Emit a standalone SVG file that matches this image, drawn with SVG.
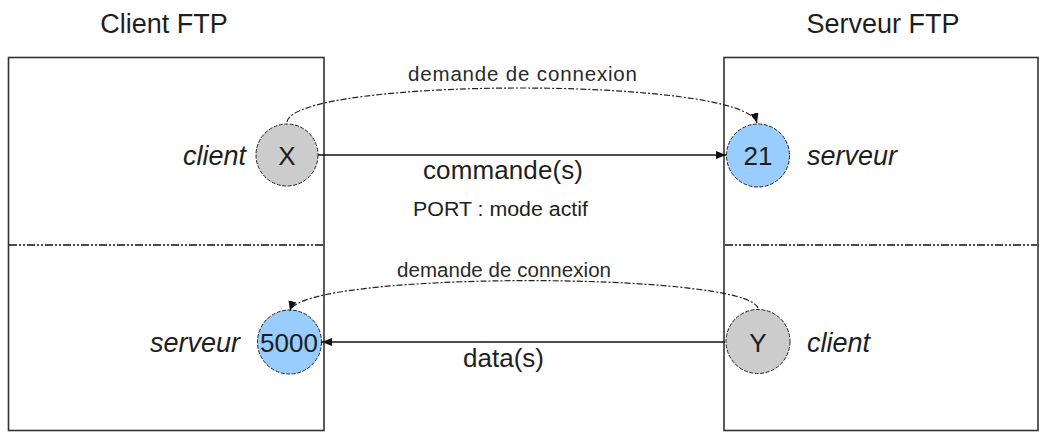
<svg xmlns="http://www.w3.org/2000/svg" width="1040" height="438" viewBox="0 0 1040 438">
<style>
text{font-family:"Liberation Sans",Arial,sans-serif;fill:#1e1e1e}
.title{font-size:27px;text-anchor:middle}
.lbl{font-size:27px;font-style:italic}
.num{font-size:26px;text-anchor:middle}
.big{font-size:26px;text-anchor:middle}
.small{font-size:20px;text-anchor:middle}
.dem{font-size:20.5px;text-anchor:middle;fill:#2a2a2a}
.box{fill:none;stroke:#333;stroke-width:1.6}
.div{stroke:#111;stroke-width:1.4;stroke-dasharray:8,2,2,2,2,2}
.port{stroke:#222;stroke-width:1;stroke-dasharray:4,1.5}
.client{fill:#cccccc}
.server{fill:#99ccff}
.solid{fill:none;stroke:#111;stroke-width:1.5}
.curve{fill:none;stroke:#222;stroke-width:1.2;stroke-dasharray:6,2,2,2}
</style>
<defs>
<marker id="ah" viewBox="0 0 10 8" refX="10" refY="4" markerWidth="10" markerHeight="8" markerUnits="userSpaceOnUse" orient="auto">
<path d="M0,0 L10,4 L0,8 z" fill="#111"/>
</marker>
</defs>

<g id="client-ftp">
<text class="title" x="164" y="33">Client FTP</text>
<rect class="box" x="8.5" y="57.5" width="315.5" height="373"/>
<line class="div" x1="9" y1="245" x2="323" y2="245"/>
</g>
<g id="serveur-ftp">
<text class="title" x="883" y="33">Serveur FTP</text>
<rect class="box" x="724" y="57.5" width="314" height="373"/>
<line class="div" x1="725" y1="245" x2="1037" y2="245"/>
</g>

<g id="node-x">
<circle class="client port" cx="287" cy="155" r="31"/>
<text class="num" x="287" y="164.5">X</text>
<text class="lbl" x="246" y="165" text-anchor="end">client</text>
</g>
<g id="node-21">
<circle class="server port" cx="758" cy="155.5" r="31.5"/>
<text class="num" x="758" y="165">21</text>
<text class="lbl" x="807" y="165">serveur</text>
</g>
<g id="node-5000">
<circle class="server port" cx="289.5" cy="342" r="32"/>
<text class="num" x="289" y="352">5000</text>
<text class="lbl" x="240" y="352" text-anchor="end">serveur</text>
</g>
<g id="node-y">
<circle class="client port" cx="758" cy="341.5" r="32"/>
<text class="num" x="758" y="352">Y</text>
<text class="lbl" x="807" y="352">client</text>
</g>

<g id="connectors">
<path class="curve" d="M287,122 C295,77 745,76 757,123" marker-end="url(#ah)"/>
<text class="dem" x="522.5" y="81" textLength="229" lengthAdjust="spacing">demande de connexion</text>
<line class="solid" x1="318" y1="155" x2="726" y2="155" marker-end="url(#ah)"/>
<text class="big" x="503" y="179" textLength="160" lengthAdjust="spacing">commande(s)</text>
<text class="small" x="500.5" y="216" textLength="175" lengthAdjust="spacingAndGlyphs">PORT : mode actif</text>

<path class="curve" d="M758,308 C745,271 300,271 290,311" marker-end="url(#ah)"/>
<text class="dem" x="504" y="277" textLength="214" lengthAdjust="spacing">demande de connexion</text>
<line class="solid" x1="725" y1="342" x2="322" y2="342" marker-end="url(#ah)"/>
<text class="big" x="503.5" y="367" textLength="81" lengthAdjust="spacing">data(s)</text>
</g>
</svg>
